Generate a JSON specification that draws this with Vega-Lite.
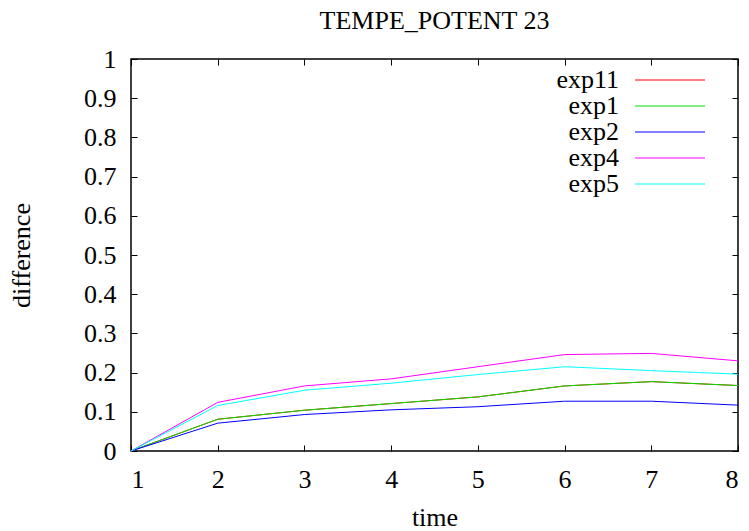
{
  "$schema": "https://vega.github.io/schema/vega-lite/v6.json",
  "autosize": "none",
  "width": 607,
  "height": 392,
  "padding": {"left": 131, "top": 59, "right": 11, "bottom": 80},
  "background": "white",
  "title": {
    "text": "TEMPE_POTENT 23",
    "font": "Liberation Serif",
    "fontSize": 26,
    "fontWeight": "normal",
    "color": "black",
    "anchor": "middle",
    "offset": 12
  },
  "config": {
    "view": {"stroke": "black", "strokeWidth": 1.5},
    "axis": {
      "labelFont": "Liberation Serif",
      "labelFontSize": 26,
      "labelColor": "black",
      "titleFont": "Liberation Serif",
      "titleFontSize": 26,
      "titleFontWeight": "normal",
      "titleColor": "black",
      "grid": false,
      "domain": false,
      "tickColor": "black",
      "tickSize": -6,
      "tickWidth": 1
    }
  },
  "data": {
    "values": [
      {"time": 1, "series": "exp11", "difference": 0},
      {"time": 2, "series": "exp11", "difference": 0.081},
      {"time": 3, "series": "exp11", "difference": 0.104},
      {"time": 4, "series": "exp11", "difference": 0.121},
      {"time": 5, "series": "exp11", "difference": 0.138},
      {"time": 6, "series": "exp11", "difference": 0.166},
      {"time": 7, "series": "exp11", "difference": 0.177},
      {"time": 8, "series": "exp11", "difference": 0.167},
      {"time": 1, "series": "exp1", "difference": 0},
      {"time": 2, "series": "exp1", "difference": 0.081},
      {"time": 3, "series": "exp1", "difference": 0.104},
      {"time": 4, "series": "exp1", "difference": 0.121},
      {"time": 5, "series": "exp1", "difference": 0.138},
      {"time": 6, "series": "exp1", "difference": 0.166},
      {"time": 7, "series": "exp1", "difference": 0.177},
      {"time": 8, "series": "exp1", "difference": 0.167},
      {"time": 1, "series": "exp2", "difference": 0},
      {"time": 2, "series": "exp2", "difference": 0.071},
      {"time": 3, "series": "exp2", "difference": 0.093},
      {"time": 4, "series": "exp2", "difference": 0.105},
      {"time": 5, "series": "exp2", "difference": 0.113},
      {"time": 6, "series": "exp2", "difference": 0.127},
      {"time": 7, "series": "exp2", "difference": 0.127},
      {"time": 8, "series": "exp2", "difference": 0.117},
      {"time": 1, "series": "exp4", "difference": 0},
      {"time": 2, "series": "exp4", "difference": 0.124},
      {"time": 3, "series": "exp4", "difference": 0.166},
      {"time": 4, "series": "exp4", "difference": 0.184},
      {"time": 5, "series": "exp4", "difference": 0.215},
      {"time": 6, "series": "exp4", "difference": 0.246},
      {"time": 7, "series": "exp4", "difference": 0.249},
      {"time": 8, "series": "exp4", "difference": 0.230},
      {"time": 1, "series": "exp5", "difference": 0},
      {"time": 2, "series": "exp5", "difference": 0.116},
      {"time": 3, "series": "exp5", "difference": 0.155},
      {"time": 4, "series": "exp5", "difference": 0.173},
      {"time": 5, "series": "exp5", "difference": 0.195},
      {"time": 6, "series": "exp5", "difference": 0.215},
      {"time": 7, "series": "exp5", "difference": 0.205},
      {"time": 8, "series": "exp5", "difference": 0.196}
    ]
  },
  "layer": [
    {
      "mark": {"type": "line", "strokeWidth": 1},
      "encoding": {
        "x": {
          "field": "time",
          "type": "quantitative",
          "scale": {"domain": [1, 8], "nice": false, "zero": false},
          "axis": {"values": [1, 2, 3, 4, 5, 6, 7, 8], "format": "d", "title": "time", "labelPadding": 21, "titlePadding": 12}
        },
        "y": {
          "field": "difference",
          "type": "quantitative",
          "scale": {"domain": [0, 1], "nice": false},
          "axis": {"values": [0, 0.1, 0.2, 0.3, 0.4, 0.5, 0.6, 0.7, 0.8, 0.9, 1], "format": "~g", "title": "difference", "labelPadding": 21, "titlePadding": 49}
        },
        "color": {
          "field": "series",
          "type": "nominal",
          "sort": ["exp11", "exp1", "exp2", "exp4", "exp5"],
          "scale": {
            "domain": ["exp11", "exp1", "exp2", "exp4", "exp5"],
            "range": ["#ff0000", "#00e000", "#0000ff", "#ff00ff", "#00ffff"]
          },
          "legend": {
            "orient": "none",
            "legendX": 526,
            "legendY": 8,
            "direction": "vertical",
            "title": null,
            "padding": 0,
            "symbolType": "M-3.5,0H3.5",
            "symbolSize": 400,
            "symbolStrokeWidth": 1,
            "labelAlign": "right",
            "labelOffset": -64,
            "labelFont": "Liberation Serif",
            "labelFontSize": 26,
            "labelColor": "black",
            "rowPadding": 0
          }
        }
      }
    },
    {
      "mark": {"type": "line", "opacity": 0},
      "encoding": {
        "x": {
          "field": "time",
          "type": "quantitative",
          "scale": {"domain": [1, 8], "nice": false, "zero": false},
          "axis": {"orient": "top", "values": [1, 2, 3, 4, 5, 6, 7, 8], "labels": false, "title": null}
        },
        "y": {
          "field": "difference",
          "type": "quantitative",
          "scale": {"domain": [0, 1], "nice": false},
          "axis": {"orient": "right", "values": [0, 0.1, 0.2, 0.3, 0.4, 0.5, 0.6, 0.7, 0.8, 0.9, 1], "labels": false, "title": null}
        },
        "detail": {"field": "series"}
      }
    }
  ],
  "resolve": {"axis": {"x": "independent", "y": "independent"}}
}
